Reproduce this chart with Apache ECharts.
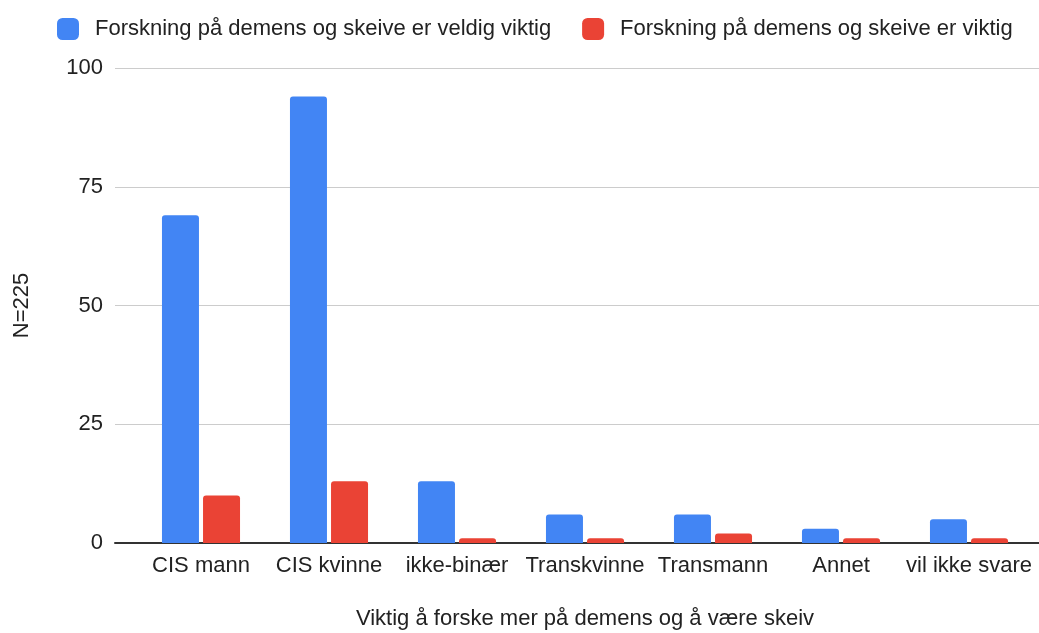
<!DOCTYPE html>
<html><head><meta charset="utf-8">
<script src="https://cdn.jsdelivr.net/npm/echarts@6/dist/echarts.min.js"></script>
<style>html,body{margin:0;padding:0;background:#fff}#c{width:1039px;height:633px}</style>
</head><body><div id="c"></div>
<script>
const categories = ['CIS mann','CIS kvinne','ikke-binær','Transkvinne','Transmann','Annet','vil ikke svare'];
const veldigViktig = [69, 94, 13, 6, 6, 3, 5];
const viktig = [10, 13, 1, 1, 2, 1, 1];
const seriesNames = ['Forskning på demens og skeive er veldig viktig','Forskning på demens og skeive er viktig'];
const yTicks = [0, 25, 50, 75, 100];
const xTitle = 'Viktig å forske mer på demens og å være skeiv';
const yTitle = 'N=225';

const FONT = 'Liberation Sans';
const FS = 22;
const chart = echarts.init(document.getElementById('c'));
chart.setOption({
  animation: false,
  textStyle: {fontFamily: FONT},
  legend: {
    top: 13, left: 52, itemWidth: 22, itemHeight: 22, itemGap: 31,
    icon: 'roundRect',
    textStyle: {fontSize: FS, color: '#222', fontFamily: FONT, padding: [0,0,0,11]},
    data: seriesNames
  },
  grid: [
    {left: 137, right: 6, top: 68, bottom: 90, containLabel: false, outerBoundsMode: 'none'},
    {left: 115, right: 0, top: 68, bottom: 90, containLabel: false, outerBoundsMode: 'none'}
  ],
  xAxis: [
    {type: 'category', gridIndex: 0, data: categories,
     axisLine: {show: false}, axisTick: {show: false},
     axisLabel: {fontSize: FS, color: '#222', margin: 12, interval: 0},
     name: xTitle, nameLocation: 'middle', nameGap: 65,
     nameTextStyle: {fontSize: FS, color: '#222'}},
    {type: 'value', gridIndex: 1, min: 0, max: 1, show: true,
     axisLine: {show: true, onZero: false, lineStyle: {color: '#333', width: 2}},
     axisTick: {show: false}, axisLabel: {show: false}, splitLine: {show: false}}
  ],
  yAxis: [
    {type: 'value', gridIndex: 0, min: 0, max: 100, interval: 25, show: false},
    {type: 'value', gridIndex: 1, min: yTicks[0], max: yTicks[yTicks.length-1], interval: 25,
     axisLine: {show: false}, axisTick: {show: false},
     axisLabel: {fontSize: FS, color: '#222', margin: 12},
     splitLine: {lineStyle: {color: '#ccc', width: 1}},
     name: yTitle, nameLocation: 'middle', nameGap: 82, nameRotate: 90,
     nameTextStyle: {fontSize: FS, color: '#222'}}
  ],
  series: [
    {name: seriesNames[0], type: 'bar', xAxisIndex: 0, yAxisIndex: 0, data: veldigViktig,
     barWidth: 37, barGap: '11%', itemStyle: {color: '#4285F4', borderRadius: [3,3,0,0]}},
    {name: seriesNames[1], type: 'bar', xAxisIndex: 0, yAxisIndex: 0, data: viktig,
     barWidth: 37, barGap: '11%', itemStyle: {color: '#EA4335', borderRadius: [3,3,0,0]}}
  ]
});
</script></body></html>
